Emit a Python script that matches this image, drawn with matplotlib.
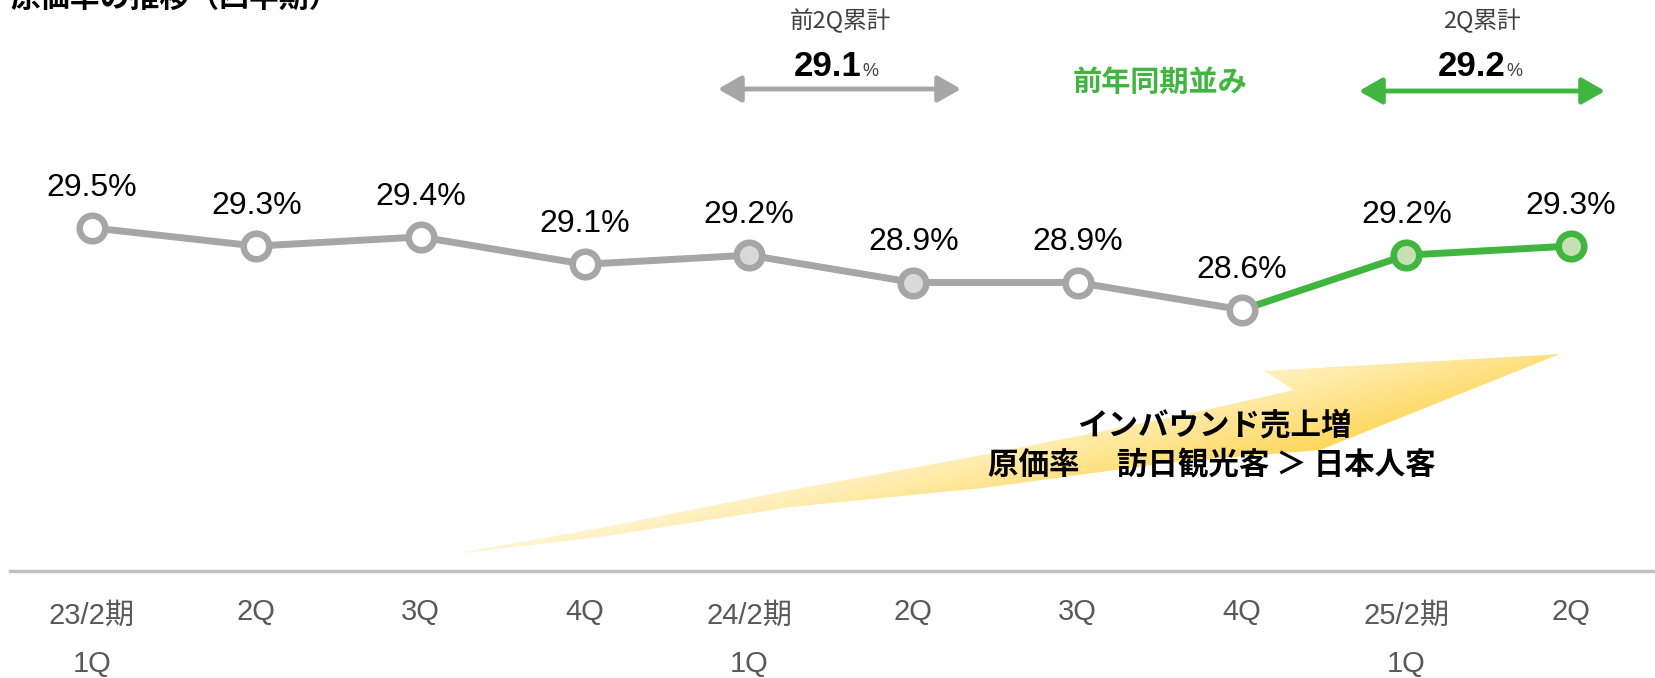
import numpy as np
import matplotlib.pyplot as plt
from matplotlib.patches import Polygon

plt.rcParams['font.family'] = ['Liberation Sans', 'Noto Sans CJK JP']

# ====== データ ======
fiscal_labels = ["23/2期", "", "", "", "24/2期", "", "", "", "25/2期", ""]
quarter_labels = ["1Q", "2Q", "3Q", "4Q", "1Q", "2Q", "3Q", "4Q", "1Q", "2Q"]
cost_rate = [29.5, 29.3, 29.4, 29.1, 29.2, 28.9, 28.9, 28.6, 29.2, 29.3]
prev_h1_total = 29.1
curr_h1_total = 29.2

W, H = 1656, 678
GRAY = "#a6a6a6"
GREEN = "#40b640"
JP = "Noto Sans CJK JP"

fig = plt.figure(figsize=(W / 100, H / 100), dpi=100)

# 背景レイヤー（ピクセル座標）
ov = fig.add_axes([0, 0, 1, 1], zorder=0)
ov.set_xlim(0, W)
ov.set_ylim(H, 0)
ov.axis("off")

# インバウンド矢印（グラデーション）
arrow_pts = [(454, 554), (600, 528), (791, 490), (983, 455), (1174, 417), (1294, 390),
             (1264, 371), (1560, 354), (1320, 450), (1174, 462), (983, 488),
             (791, 507), (600, 537)]
poly = Polygon(arrow_pts, closed=True, facecolor="none", edgecolor="none")
ov.add_patch(poly)
xs = np.linspace(440, 1570, 400)
ys = np.linspace(340, 570, 200)
X, Y = np.meshgrid(xs, ys)
t = np.clip((X + 4 * Y - 2580) / 520, 0, 1)
c0 = np.array([1.0, 0.99, 0.94])
c1 = np.array([1.0, 0.85, 0.38])
img = c0[None, None, :] * (1 - t[..., None]) + c1[None, None, :] * t[..., None]
im = ov.imshow(img, extent=(440, 1570, 340, 570), origin="lower", aspect="auto", zorder=1)
im.set_clip_path(poly)
ov.set_xlim(0, W)
ov.set_ylim(H, 0)

# タイトル（上端で切れている）
ov.text(10, 7, "原価率の推移（四半期）", family=JP, fontsize=21.5, fontweight="bold",
        ha="left", va="baseline", color="black")

# 累計の注記
ov.text(840, 21, "前2Q累計", family=JP, fontsize=17, color="#404040", ha="center", va="center")
ov.text(862, 76, f"{prev_h1_total:.1f}", fontsize=25, fontweight="bold", ha="right", va="baseline")
ov.text(862, 76, "%", fontsize=13, ha="left", va="baseline", color="#404040")
ov.annotate("", xy=(961, 89), xytext=(718, 89),
            arrowprops=dict(arrowstyle="<|-|>,head_length=0.7,head_width=0.4", color=GRAY,
                            lw=3.5, shrinkA=0, shrinkB=0, mutation_scale=20))

ov.text(1482, 21, "2Q累計", family=JP, fontsize=17, color="#404040", ha="center", va="center")
ov.text(1506, 76, f"{curr_h1_total:.1f}", fontsize=25, fontweight="bold", ha="right", va="baseline")
ov.text(1506, 76, "%", fontsize=13, ha="left", va="baseline", color="#404040")
ov.annotate("", xy=(1605, 91), xytext=(1359, 91),
            arrowprops=dict(arrowstyle="<|-|>,head_length=0.7,head_width=0.4", color=GREEN,
                            lw=3.5, shrinkA=0, shrinkB=0, mutation_scale=20))

ov.text(1160, 82, "前年同期並み", family=JP, fontsize=21, fontweight="bold", color=GREEN,
        ha="center", va="center")

ov.text(1214, 426, "インバウンド売上増", family=JP, fontsize=22, fontweight="bold",
        ha="center", va="center", zorder=3)
ov.text(1212, 465, "原価率　 訪日観光客 ＞ 日本人客", family=JP, fontsize=22, fontweight="bold",
        ha="center", va="center", zorder=3)

# ====== 折れ線 ======
ax = fig.add_axes([0, 0, 1, 1], zorder=1)
ax.patch.set_alpha(0)
ax.set_xlim(-0.56, 9.52)
ax.set_ylim(24.56, 32.0)
ax.axis("off")

x = np.arange(len(cost_rate))
ax.plot(x[:8], cost_rate[:8], color=GRAY, lw=5, solid_capstyle="butt", zorder=2)
ax.plot(x[7:], cost_rate[7:], color=GREEN, lw=5, solid_capstyle="butt", zorder=2)

for i, v in enumerate(cost_rate):
    if i >= 8:
        edge, face = GREEN, "#c6e0b4"
    elif i in (4, 5):
        edge, face = GRAY, "#d9d9d9"
    else:
        edge, face = GRAY, "white"
    ax.plot(i, v, marker="o", markersize=18.4, markeredgewidth=4.7,
            markeredgecolor=edge, markerfacecolor=face, zorder=3)
    ax.annotate(f"{v:.1f}%", (i, v), xytext=(0, 28.8), textcoords="offset points",
                ha="center", va="center", fontsize=23, color="black")

# 横軸
base = 25.735
ax.axhline(base, xmin=10 / W, xmax=1, color="#bfbfbf", lw=2.5)
for i in range(len(quarter_labels)):
    if fiscal_labels[i]:
        ax.annotate(fiscal_labels[i], (i, base), xytext=(0, -32), textcoords="offset points",
                    ha="center", va="center", fontsize=21, color="#595959")
        ax.annotate(quarter_labels[i], (i, base), xytext=(0, -67), textcoords="offset points",
                    ha="center", va="center", fontsize=21, color="#595959")
    else:
        ax.annotate(quarter_labels[i], (i, base), xytext=(0, -29.5), textcoords="offset points",
                    ha="center", va="center", fontsize=21, color="#595959")

fig.savefig("out.png", dpi=100)
